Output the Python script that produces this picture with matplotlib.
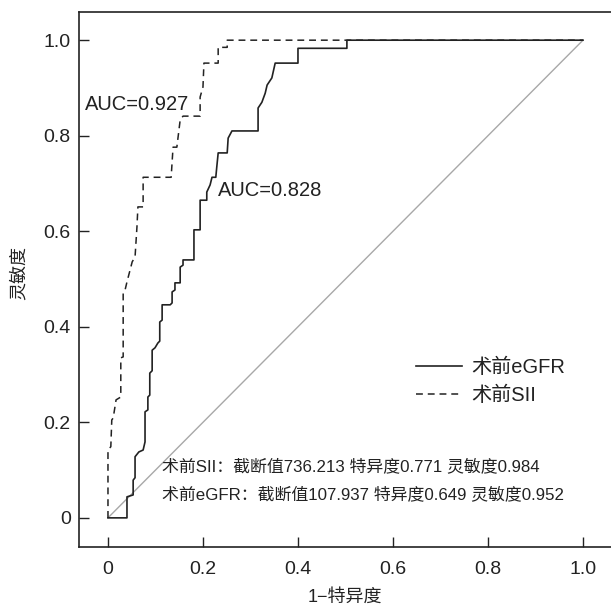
import matplotlib
matplotlib.use("Agg")
import matplotlib.pyplot as plt
from matplotlib.lines import Line2D

plt.rcParams['font.family'] = ['Liberation Sans', 'Noto Sans CJK SC', 'DejaVu Sans']

# eGFR ROC curve (1-specificity, sensitivity)
egfr_fpr = [0.000, 0.040, 0.040, 0.053, 0.053, 0.057, 0.057, 0.065, 0.074, 0.078, 0.078,
            0.084, 0.084, 0.088, 0.088, 0.093, 0.093, 0.099, 0.105, 0.109, 0.109, 0.114,
            0.114, 0.131, 0.135, 0.135, 0.141, 0.141, 0.152, 0.152, 0.158, 0.158, 0.181,
            0.181, 0.194, 0.194, 0.208, 0.208, 0.215, 0.219, 0.227, 0.229, 0.232, 0.251,
            0.253, 0.261, 0.316, 0.316, 0.324, 0.331, 0.335, 0.345, 0.352, 0.400, 0.400,
            0.503, 0.503, 1.000]
egfr_tpr = [0.000, 0.000, 0.044, 0.048, 0.079, 0.084, 0.128, 0.138, 0.142, 0.159, 0.222,
            0.226, 0.253, 0.257, 0.303, 0.308, 0.351, 0.356, 0.366, 0.370, 0.410, 0.414,
            0.446, 0.446, 0.450, 0.473, 0.477, 0.492, 0.492, 0.525, 0.529, 0.540, 0.540,
            0.603, 0.603, 0.665, 0.665, 0.682, 0.697, 0.713, 0.713, 0.734, 0.764, 0.764,
            0.795, 0.810, 0.810, 0.858, 0.870, 0.889, 0.906, 0.921, 0.952, 0.952, 0.983,
            0.983, 1.000, 1.000]

# SII ROC curve
sii_fpr = [0.000, 0.000, 0.006, 0.008, 0.011, 0.017, 0.027, 0.027, 0.032, 0.032, 0.036,
           0.040, 0.051, 0.057, 0.061, 0.063, 0.074, 0.074, 0.133, 0.137, 0.145, 0.152,
           0.158, 0.194, 0.194, 0.200, 0.202, 0.232, 0.232, 0.251, 0.251, 1.000]
sii_tpr = [0.000, 0.142, 0.149, 0.205, 0.209, 0.247, 0.253, 0.335, 0.337, 0.471, 0.477,
           0.494, 0.536, 0.546, 0.609, 0.651, 0.651, 0.713, 0.713, 0.776, 0.776, 0.833,
           0.841, 0.841, 0.881, 0.902, 0.952, 0.952, 0.985, 0.985, 1.000, 1.000]

series_names = ['术前eGFR', '术前SII']
auc_labels = ['AUC=0.828', 'AUC=0.927']
note_lines = ['术前SII：截断值736.213 特异度0.771 灵敏度0.984',
              '术前eGFR：截断值107.937 特异度0.649 灵敏度0.952']
ticks = [0, 0.2, 0.4, 0.6, 0.8, 1.0]
tick_labels = ['0', '0.2', '0.4', '0.6', '0.8', '1.0']

dark = '#222222'
dash = (0, (4.5, 3.2))
fig = plt.figure(figsize=(6.11, 6.10), dpi=100)
ax = fig.add_axes([79/611, 63/610, 1 - 79/611, (547-12)/610])

ax.plot([0, 1], [0, 1], color='#a8a8a8', lw=1.0, zorder=1)
ax.plot(egfr_fpr, egfr_tpr, color=dark, lw=1.2, zorder=3)
ax.plot(sii_fpr, sii_tpr, color=dark, lw=1.1, linestyle=dash, zorder=2)

ax.set_xlim(-0.061, 1.059)
ax.set_ylim(-0.061, 1.059)
ax.set_xticks(ticks)
ax.set_xticklabels(tick_labels)
ax.set_yticks(ticks)
ax.set_yticklabels(tick_labels)
ax.tick_params(direction='in', length=7, width=1.0, labelsize=14, colors=dark)
ax.tick_params(axis='x', pad=10)
ax.tick_params(axis='y', pad=6)
for s in ['left', 'bottom', 'top']:
    ax.spines[s].set_linewidth(1.2)
    ax.spines[s].set_color(dark)
ax.spines['right'].set_visible(False)

ax.set_xlabel('1−特异度', fontsize=13, color=dark)
ax.set_ylabel('灵敏度', fontsize=13, color=dark)
ax.xaxis.set_label_coords((345 - 79) / 532, (547 - 597) / 535)
ax.yaxis.set_label_coords((19 - 79) / 532, (547 - 273) / 535)
ax.xaxis.label.set_va('center')
ax.yaxis.label.set_va('center')

ax.text(-0.048, 0.866, auc_labels[1], fontsize=14.5, color=dark, va='center', ha='left')
ax.text(0.232, 0.686, auc_labels[0], fontsize=14.5, color=dark, va='center', ha='left')

ax.text(0.114, 0.107, note_lines[0], fontsize=12.2, color=dark, va='center', ha='left')
ax.text(0.114, 0.050, note_lines[1], fontsize=12.2, color=dark, va='center', ha='left')

handles = [Line2D([], [], color=dark, lw=1.2),
           Line2D([], [], color=dark, lw=1.1, linestyle=dash)]
ax.legend(handles, series_names, loc='upper left', bbox_to_anchor=(416/611, 1 - 358/610),
          bbox_transform=fig.transFigure, frameon=False, fontsize=14.5,
          handlelength=2.3, handletextpad=0.45, labelspacing=0.4, borderpad=0,
          borderaxespad=0, labelcolor=dark)

fig.savefig('out.png', dpi=100)
